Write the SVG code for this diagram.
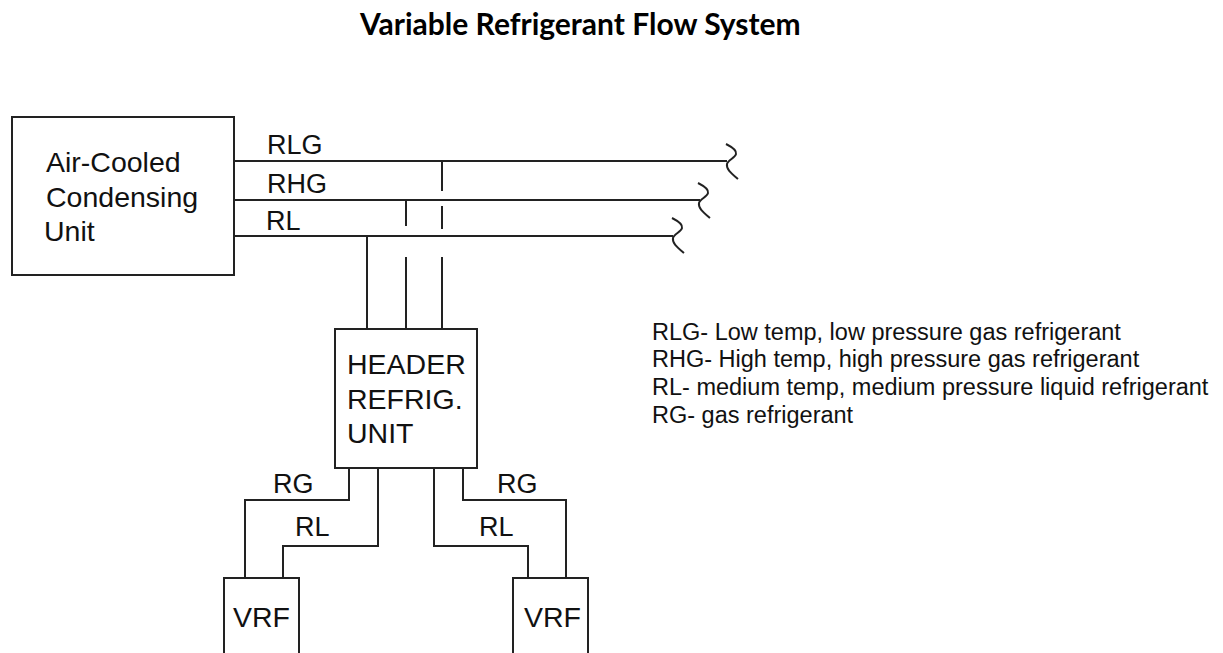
<svg xmlns="http://www.w3.org/2000/svg" width="1223" height="653" viewBox="0 0 1223 653">
<defs>
<path id="brk" d="M726 144 C732 147 737 150 736 154 C735 158 728 160 727 164 C726 169 731 173 738 179"/>
</defs>
<style>
text{font-family:"Liberation Sans",Arial,sans-serif;fill:#111}
.t{font-size:28.5px}
.l{font-size:27px}
.k{font-size:23.5px}
.title{font-family:Lato,"Open Sans",sans-serif;font-weight:700;font-size:30px;fill:#000}
.b{fill:#fff;stroke:#222;stroke-width:2}
.c{fill:none;stroke:#222;stroke-width:2}
</style>
<rect width="1223" height="653" fill="#fff"/>
<text class="title" x="360" y="35">Variable Refrigerant Flow System</text>
<g id="connectors" class="c">
<path d="M234 161H727M234 200H700M234 236H673"/>
<use href="#brk"/>
<use href="#brk" x="-28" y="39"/>
<use href="#brk" x="-54" y="74"/>
<path d="M442 161V191M442 206V229M442 257V329M406 200V226M406 257V329M367 236V329"/>
<path d="M349 468V500H245V578M378 468V546H283V578M434 468V546H528V578M463 468V500H566V578"/>
</g>
<g id="condensing-unit">
<rect class="b" x="12" y="117" width="222" height="158"/>
<text class="t" x="46" y="172">Air-Cooled</text>
<text class="t" x="46" y="207">Condensing</text>
<text class="t" x="44" y="241">Unit</text>
</g>
<g id="header-unit">
<rect class="b" x="335" y="329" width="142" height="139"/>
<text class="t" x="347" y="374">HEADER</text>
<text class="t" x="347" y="409">REFRIG.</text>
<text class="t" x="347" y="443">UNIT</text>
</g>
<g id="vrf-left">
<rect class="b" x="224" y="578" width="75" height="85"/>
<text class="t" x="233" y="627">VRF</text>
</g>
<g id="vrf-right">
<rect class="b" x="513" y="578" width="75" height="85"/>
<text class="t" x="524" y="627">VRF</text>
</g>
<g id="labels">
<text class="l" x="267" y="154">RLG</text>
<text class="l" x="267" y="193">RHG</text>
<text class="l" x="266" y="230">RL</text>
<text class="l" x="273" y="493">RG</text>
<text class="l" x="295" y="536">RL</text>
<text class="l" x="497" y="493">RG</text>
<text class="l" x="479" y="536">RL</text>
</g>
<g id="legend">
<text class="k" x="652" y="340">RLG- Low temp, low pressure gas refrigerant</text>
<text class="k" x="652" y="367">RHG- High temp, high pressure gas refrigerant</text>
<text class="k" x="652" y="395">RL- medium temp, medium pressure liquid refrigerant</text>
<text class="k" x="652" y="423">RG- gas refrigerant</text>
</g>
</svg>
